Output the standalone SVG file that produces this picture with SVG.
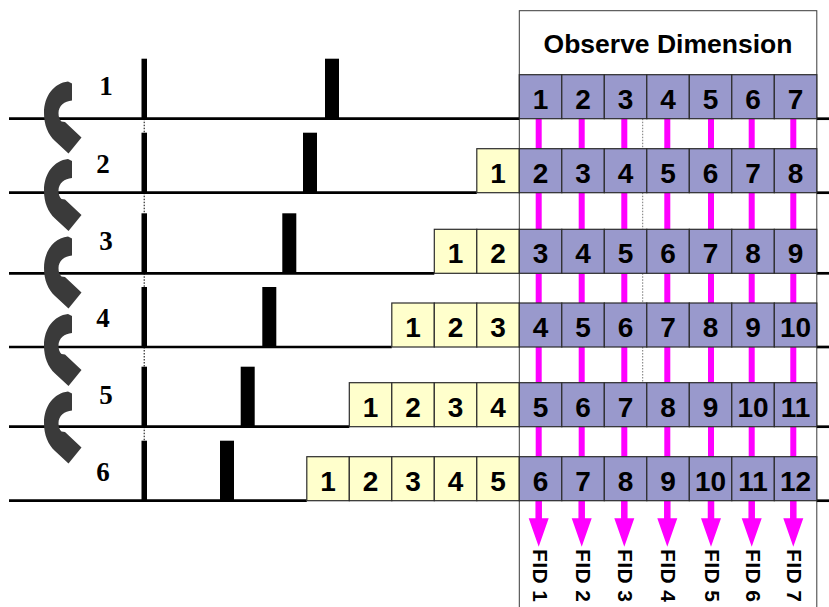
<svg xmlns="http://www.w3.org/2000/svg" xmlns:xlink="http://www.w3.org/1999/xlink" width="829" height="607" viewBox="0 0 829 607">
<style>
.box{fill:#fff;stroke:#3a3a3a;stroke-width:1}
.po{fill:#9999cc;stroke:#2b2b2b;stroke-width:1.2}
.py{fill:#ffffcc;stroke:#2b2b2b;stroke-width:1.2}
.n{font-family:"Liberation Sans",Arial,sans-serif;font-weight:700;font-size:28px;text-anchor:middle;fill:#000}
.hdr{font-family:"Liberation Sans",Arial,sans-serif;font-weight:700;font-size:26.5px;text-anchor:middle;fill:#000}
.lbl{font-family:"Liberation Serif","Times New Roman",serif;font-weight:700;font-size:27px;text-anchor:middle;fill:#000}
.base{stroke:#000;stroke-width:2.7;fill:none}
.dot{stroke:#000;stroke-width:1;stroke-dasharray:1.5 1.5;fill:none}
.gdot{stroke:#777;stroke-width:1;stroke-dasharray:1.5 1.5;fill:none}
.mag{fill:#ff00ff}
.cyc{fill:#3a3a3a}
.pulse{fill:#000}
.fid{font-family:"Liberation Sans",Arial,sans-serif;font-weight:700;font-size:21px;fill:#000}
</style>
<defs>
  <!-- curved step arrow between successive increments -->
  <path id="cycle" d="M68 81.5 L72 83.5 L72 100.5 C64.5 101 58.5 106 58.5 113 C58.5 117 59.5 119.5 61.5 121.5 L65 122 L81.5 137.5 L68.5 153.5 L55 141 C48 134.5 44 125 44 113 C44 96 54 83 68 81.5 Z"/>
  <!-- downward readout arrow -->
  <path id="down" d="M-3.25 500.7 H3.25 V518.3 H10 L0 546.7 L-10 518.3 H-3.25 Z"/>
</defs>

<!-- observe-dimension frame -->
<g id="observe-box">
  <rect class="box" x="519.3" y="10.7" width="297.5" height="620"/>
  <text class="hdr" x="668" y="53">Observe Dimension</text>
</g>

<!-- baselines of the pulse sequences -->
<g id="baselines">
  <line class="base" x1="9" y1="118.7" x2="519.3" y2="118.7"/>
  <line class="base" x1="816.8" y1="118.7" x2="829" y2="118.7"/>
  <line class="base" x1="9" y1="192.7" x2="476.8" y2="192.7"/>
  <line class="base" x1="816.8" y1="192.7" x2="829" y2="192.7"/>
  <line class="base" x1="9" y1="273.3" x2="434.3" y2="273.3"/>
  <line class="base" x1="816.8" y1="273.3" x2="829" y2="273.3"/>
  <line class="base" x1="9" y1="347" x2="391.8" y2="347"/>
  <line class="base" x1="816.8" y1="347" x2="829" y2="347"/>
  <line class="base" x1="9" y1="426.7" x2="349.3" y2="426.7"/>
  <line class="base" x1="816.8" y1="426.7" x2="829" y2="426.7"/>
  <line class="base" x1="9" y1="500.7" x2="306.8" y2="500.7"/>
  <line class="base" x1="816.8" y1="500.7" x2="829" y2="500.7"/>
</g>

<!-- pulse sequences with increment labels -->
<g id="pulse-1">
  <rect class="pulse" x="141.5" y="58.7" width="5.5" height="60"/>
  <rect class="pulse" x="325" y="58.7" width="14" height="60"/>
  <text class="lbl" x="106" y="95">1</text>
</g>
<g id="pulse-2">
  <rect class="pulse" x="141.5" y="132.7" width="5.5" height="60"/>
  <rect class="pulse" x="303" y="132.7" width="14" height="60"/>
  <text class="lbl" x="103" y="173">2</text>
</g>
<g id="pulse-3">
  <rect class="pulse" x="141.5" y="213.3" width="5.5" height="60"/>
  <rect class="pulse" x="282.3" y="213.3" width="14" height="60"/>
  <text class="lbl" x="106" y="250">3</text>
</g>
<g id="pulse-4">
  <rect class="pulse" x="141.5" y="287" width="5.5" height="60"/>
  <rect class="pulse" x="262.3" y="287" width="14" height="60"/>
  <text class="lbl" x="103" y="327">4</text>
</g>
<g id="pulse-5">
  <rect class="pulse" x="141.5" y="366.7" width="5.5" height="60"/>
  <rect class="pulse" x="240.7" y="366.7" width="14" height="60"/>
  <text class="lbl" x="106" y="404">5</text>
</g>
<g id="pulse-6">
  <rect class="pulse" x="141.5" y="440.7" width="5.5" height="60"/>
  <rect class="pulse" x="220" y="440.7" width="14" height="60"/>
  <text class="lbl" x="103" y="481">6</text>
</g>

<!-- dotted alignment guides -->
<g id="guides">
  <line class="dot" x1="144.2" y1="118.7" x2="144.2" y2="132.7"/>
  <line class="dot" x1="144.2" y1="192.7" x2="144.2" y2="213.3"/>
  <line class="dot" x1="144.2" y1="273.3" x2="144.2" y2="287"/>
  <line class="dot" x1="144.2" y1="347" x2="144.2" y2="366.7"/>
  <line class="dot" x1="144.2" y1="426.7" x2="144.2" y2="440.7"/>
  <line class="gdot" x1="642.7" y1="118.7" x2="642.7" y2="148.7"/>
  <line class="gdot" x1="642.7" y1="192.7" x2="642.7" y2="229.3"/>
  <line class="gdot" x1="642.7" y1="273.3" x2="642.7" y2="303"/>
  <line class="gdot" x1="642.7" y1="347" x2="642.7" y2="382.7"/>
</g>

<!-- step arrows -->
<g id="cycle-arrows" class="cyc">
  <use xlink:href="#cycle"/>
  <use xlink:href="#cycle" transform="translate(0 77.5)"/>
  <use xlink:href="#cycle" transform="translate(0 155)"/>
  <use xlink:href="#cycle" transform="translate(0 232.5)"/>
  <use xlink:href="#cycle" transform="translate(0 310)"/>
</g>

<!-- connectors: columns carried down through the increments -->
<g id="connectors" class="mag">
  <rect x="535.7" y="118.7" width="6" height="30"/>
  <rect x="578.7" y="118.7" width="6" height="30"/>
  <rect x="621.3" y="118.7" width="6" height="30"/>
  <rect x="664.3" y="118.7" width="6" height="30"/>
  <rect x="708" y="118.7" width="6" height="30"/>
  <rect x="748.7" y="118.7" width="6" height="30"/>
  <rect x="790.3" y="118.7" width="6" height="30"/>

  <rect x="535.7" y="192.7" width="6" height="36.6"/>
  <rect x="578.7" y="192.7" width="6" height="36.6"/>
  <rect x="621.3" y="192.7" width="6" height="36.6"/>
  <rect x="664.3" y="192.7" width="6" height="36.6"/>
  <rect x="708" y="192.7" width="6" height="36.6"/>
  <rect x="748.7" y="192.7" width="6" height="36.6"/>
  <rect x="790.3" y="192.7" width="6" height="36.6"/>

  <rect x="535.7" y="273.3" width="6" height="29.7"/>
  <rect x="578.7" y="273.3" width="6" height="29.7"/>
  <rect x="621.3" y="273.3" width="6" height="29.7"/>
  <rect x="664.3" y="273.3" width="6" height="29.7"/>
  <rect x="708" y="273.3" width="6" height="29.7"/>
  <rect x="748.7" y="273.3" width="6" height="29.7"/>
  <rect x="790.3" y="273.3" width="6" height="29.7"/>

  <rect x="535.7" y="347" width="6" height="35.7"/>
  <rect x="578.7" y="347" width="6" height="35.7"/>
  <rect x="621.3" y="347" width="6" height="35.7"/>
  <rect x="664.3" y="347" width="6" height="35.7"/>
  <rect x="708" y="347" width="6" height="35.7"/>
  <rect x="748.7" y="347" width="6" height="35.7"/>
  <rect x="790.3" y="347" width="6" height="35.7"/>

  <rect x="535.7" y="426.7" width="6" height="30"/>
  <rect x="578.7" y="426.7" width="6" height="30"/>
  <rect x="621.3" y="426.7" width="6" height="30"/>
  <rect x="664.3" y="426.7" width="6" height="30"/>
  <rect x="708" y="426.7" width="6" height="30"/>
  <rect x="748.7" y="426.7" width="6" height="30"/>
  <rect x="790.3" y="426.7" width="6" height="30"/>

  <use xlink:href="#down" transform="translate(538.7 0)"/>
  <use xlink:href="#down" transform="translate(581.7 0)"/>
  <use xlink:href="#down" transform="translate(624.3 0)"/>
  <use xlink:href="#down" transform="translate(667.3 0)"/>
  <use xlink:href="#down" transform="translate(711 0)"/>
  <use xlink:href="#down" transform="translate(751.7 0)"/>
  <use xlink:href="#down" transform="translate(793.3 0)"/>
</g>

<!-- increment 1 -->
<g id="r1c1"><rect class="po" x="519.3" y="74.7" width="42.5" height="44"/><text class="n" x="540.55" y="108.7">1</text></g>
<g id="r1c2"><rect class="po" x="561.8" y="74.7" width="42.5" height="44"/><text class="n" x="583.05" y="108.7">2</text></g>
<g id="r1c3"><rect class="po" x="604.3" y="74.7" width="42.5" height="44"/><text class="n" x="625.55" y="108.7">3</text></g>
<g id="r1c4"><rect class="po" x="646.8" y="74.7" width="42.5" height="44"/><text class="n" x="668.05" y="108.7">4</text></g>
<g id="r1c5"><rect class="po" x="689.3" y="74.7" width="42.5" height="44"/><text class="n" x="710.55" y="108.7">5</text></g>
<g id="r1c6"><rect class="po" x="731.8" y="74.7" width="42.5" height="44"/><text class="n" x="753.05" y="108.7">6</text></g>
<g id="r1c7"><rect class="po" x="774.3" y="74.7" width="42.5" height="44"/><text class="n" x="795.55" y="108.7">7</text></g>

<!-- increment 2 -->
<g id="r2y1"><rect class="py" x="476.8" y="148.7" width="42.5" height="44"/><text class="n" x="498.05" y="182.7">1</text></g>
<g id="r2c1"><rect class="po" x="519.3" y="148.7" width="42.5" height="44"/><text class="n" x="540.55" y="182.7">2</text></g>
<g id="r2c2"><rect class="po" x="561.8" y="148.7" width="42.5" height="44"/><text class="n" x="583.05" y="182.7">3</text></g>
<g id="r2c3"><rect class="po" x="604.3" y="148.7" width="42.5" height="44"/><text class="n" x="625.55" y="182.7">4</text></g>
<g id="r2c4"><rect class="po" x="646.8" y="148.7" width="42.5" height="44"/><text class="n" x="668.05" y="182.7">5</text></g>
<g id="r2c5"><rect class="po" x="689.3" y="148.7" width="42.5" height="44"/><text class="n" x="710.55" y="182.7">6</text></g>
<g id="r2c6"><rect class="po" x="731.8" y="148.7" width="42.5" height="44"/><text class="n" x="753.05" y="182.7">7</text></g>
<g id="r2c7"><rect class="po" x="774.3" y="148.7" width="42.5" height="44"/><text class="n" x="795.55" y="182.7">8</text></g>

<!-- increment 3 -->
<g id="r3y1"><rect class="py" x="434.3" y="229.3" width="42.5" height="44"/><text class="n" x="455.55" y="263.3">1</text></g>
<g id="r3y2"><rect class="py" x="476.8" y="229.3" width="42.5" height="44"/><text class="n" x="498.05" y="263.3">2</text></g>
<g id="r3c1"><rect class="po" x="519.3" y="229.3" width="42.5" height="44"/><text class="n" x="540.55" y="263.3">3</text></g>
<g id="r3c2"><rect class="po" x="561.8" y="229.3" width="42.5" height="44"/><text class="n" x="583.05" y="263.3">4</text></g>
<g id="r3c3"><rect class="po" x="604.3" y="229.3" width="42.5" height="44"/><text class="n" x="625.55" y="263.3">5</text></g>
<g id="r3c4"><rect class="po" x="646.8" y="229.3" width="42.5" height="44"/><text class="n" x="668.05" y="263.3">6</text></g>
<g id="r3c5"><rect class="po" x="689.3" y="229.3" width="42.5" height="44"/><text class="n" x="710.55" y="263.3">7</text></g>
<g id="r3c6"><rect class="po" x="731.8" y="229.3" width="42.5" height="44"/><text class="n" x="753.05" y="263.3">8</text></g>
<g id="r3c7"><rect class="po" x="774.3" y="229.3" width="42.5" height="44"/><text class="n" x="795.55" y="263.3">9</text></g>

<!-- increment 4 -->
<g id="r4y1"><rect class="py" x="391.8" y="303" width="42.5" height="44"/><text class="n" x="413.05" y="337">1</text></g>
<g id="r4y2"><rect class="py" x="434.3" y="303" width="42.5" height="44"/><text class="n" x="455.55" y="337">2</text></g>
<g id="r4y3"><rect class="py" x="476.8" y="303" width="42.5" height="44"/><text class="n" x="498.05" y="337">3</text></g>
<g id="r4c1"><rect class="po" x="519.3" y="303" width="42.5" height="44"/><text class="n" x="540.55" y="337">4</text></g>
<g id="r4c2"><rect class="po" x="561.8" y="303" width="42.5" height="44"/><text class="n" x="583.05" y="337">5</text></g>
<g id="r4c3"><rect class="po" x="604.3" y="303" width="42.5" height="44"/><text class="n" x="625.55" y="337">6</text></g>
<g id="r4c4"><rect class="po" x="646.8" y="303" width="42.5" height="44"/><text class="n" x="668.05" y="337">7</text></g>
<g id="r4c5"><rect class="po" x="689.3" y="303" width="42.5" height="44"/><text class="n" x="710.55" y="337">8</text></g>
<g id="r4c6"><rect class="po" x="731.8" y="303" width="42.5" height="44"/><text class="n" x="753.05" y="337">9</text></g>
<g id="r4c7"><rect class="po" x="774.3" y="303" width="42.5" height="44"/><text class="n" x="795.55" y="337">10</text></g>

<!-- increment 5 -->
<g id="r5y1"><rect class="py" x="349.3" y="382.7" width="42.5" height="44"/><text class="n" x="370.55" y="416.7">1</text></g>
<g id="r5y2"><rect class="py" x="391.8" y="382.7" width="42.5" height="44"/><text class="n" x="413.05" y="416.7">2</text></g>
<g id="r5y3"><rect class="py" x="434.3" y="382.7" width="42.5" height="44"/><text class="n" x="455.55" y="416.7">3</text></g>
<g id="r5y4"><rect class="py" x="476.8" y="382.7" width="42.5" height="44"/><text class="n" x="498.05" y="416.7">4</text></g>
<g id="r5c1"><rect class="po" x="519.3" y="382.7" width="42.5" height="44"/><text class="n" x="540.55" y="416.7">5</text></g>
<g id="r5c2"><rect class="po" x="561.8" y="382.7" width="42.5" height="44"/><text class="n" x="583.05" y="416.7">6</text></g>
<g id="r5c3"><rect class="po" x="604.3" y="382.7" width="42.5" height="44"/><text class="n" x="625.55" y="416.7">7</text></g>
<g id="r5c4"><rect class="po" x="646.8" y="382.7" width="42.5" height="44"/><text class="n" x="668.05" y="416.7">8</text></g>
<g id="r5c5"><rect class="po" x="689.3" y="382.7" width="42.5" height="44"/><text class="n" x="710.55" y="416.7">9</text></g>
<g id="r5c6"><rect class="po" x="731.8" y="382.7" width="42.5" height="44"/><text class="n" x="753.05" y="416.7">10</text></g>
<g id="r5c7"><rect class="po" x="774.3" y="382.7" width="42.5" height="44"/><text class="n" x="795.55" y="416.7">11</text></g>

<!-- increment 6 -->
<g id="r6y1"><rect class="py" x="306.8" y="456.7" width="42.5" height="44"/><text class="n" x="328.05" y="490.7">1</text></g>
<g id="r6y2"><rect class="py" x="349.3" y="456.7" width="42.5" height="44"/><text class="n" x="370.55" y="490.7">2</text></g>
<g id="r6y3"><rect class="py" x="391.8" y="456.7" width="42.5" height="44"/><text class="n" x="413.05" y="490.7">3</text></g>
<g id="r6y4"><rect class="py" x="434.3" y="456.7" width="42.5" height="44"/><text class="n" x="455.55" y="490.7">4</text></g>
<g id="r6y5"><rect class="py" x="476.8" y="456.7" width="42.5" height="44"/><text class="n" x="498.05" y="490.7">5</text></g>
<g id="r6c1"><rect class="po" x="519.3" y="456.7" width="42.5" height="44"/><text class="n" x="540.55" y="490.7">6</text></g>
<g id="r6c2"><rect class="po" x="561.8" y="456.7" width="42.5" height="44"/><text class="n" x="583.05" y="490.7">7</text></g>
<g id="r6c3"><rect class="po" x="604.3" y="456.7" width="42.5" height="44"/><text class="n" x="625.55" y="490.7">8</text></g>
<g id="r6c4"><rect class="po" x="646.8" y="456.7" width="42.5" height="44"/><text class="n" x="668.05" y="490.7">9</text></g>
<g id="r6c5"><rect class="po" x="689.3" y="456.7" width="42.5" height="44"/><text class="n" x="710.55" y="490.7">10</text></g>
<g id="r6c6"><rect class="po" x="731.8" y="456.7" width="42.5" height="44"/><text class="n" x="753.05" y="490.7">11</text></g>
<g id="r6c7"><rect class="po" x="774.3" y="456.7" width="42.5" height="44"/><text class="n" x="795.55" y="490.7">12</text></g>

<!-- FID readouts -->
<g id="fid-1"><text class="fid" transform="translate(532.7 549) rotate(90)" textLength="53" lengthAdjust="spacing">FID 1</text></g>
<g id="fid-2"><text class="fid" transform="translate(575.7 549) rotate(90)" textLength="53" lengthAdjust="spacing">FID 2</text></g>
<g id="fid-3"><text class="fid" transform="translate(618.3 549) rotate(90)" textLength="53" lengthAdjust="spacing">FID 3</text></g>
<g id="fid-4"><text class="fid" transform="translate(661.3 549) rotate(90)" textLength="53" lengthAdjust="spacing">FID 4</text></g>
<g id="fid-5"><text class="fid" transform="translate(705 549) rotate(90)" textLength="53" lengthAdjust="spacing">FID 5</text></g>
<g id="fid-6"><text class="fid" transform="translate(745.7 549) rotate(90)" textLength="53" lengthAdjust="spacing">FID 6</text></g>
<g id="fid-7"><text class="fid" transform="translate(787.3 549) rotate(90)" textLength="53" lengthAdjust="spacing">FID 7</text></g>
</svg>
